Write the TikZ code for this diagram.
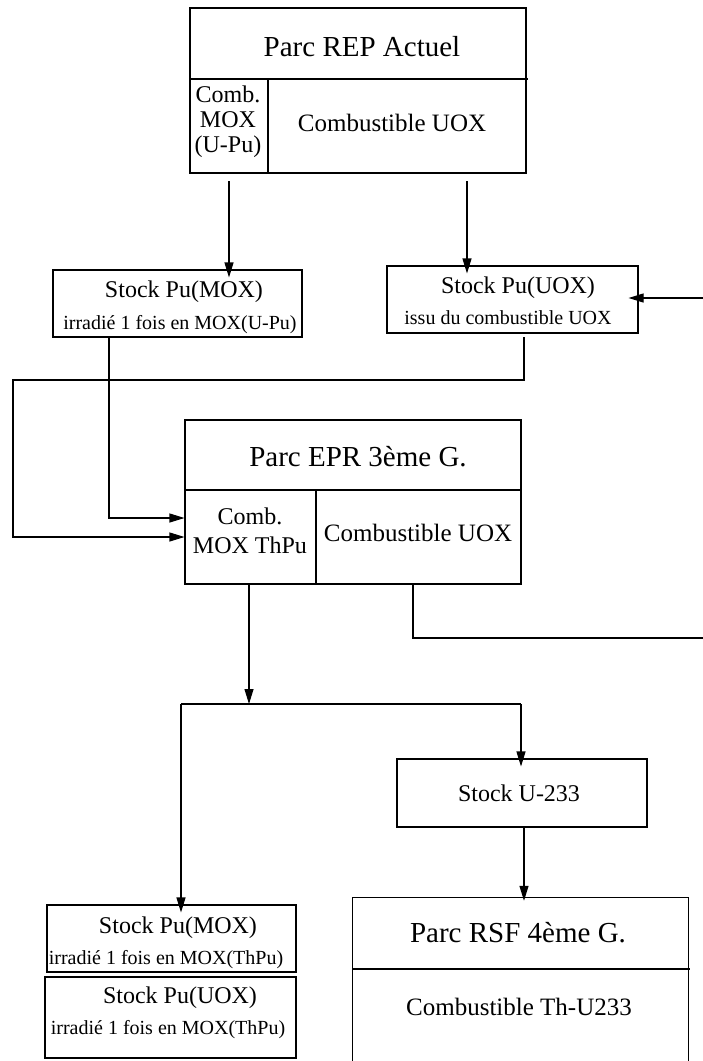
\documentclass[tikz,border=0pt]{standalone}
\usepackage{fontspec}
\setmainfont{Liberation Serif}
\usetikzlibrary{arrows.meta}
\tikzset{
  box/.style={draw, line width=1.1pt, inner sep=0pt, rectangle},
  area/.style={inner sep=0pt, rectangle},
  lbl/.style={inner sep=0pt, align=center},
  big/.style={font=\fontsize{29}{34}\selectfont},
  mid/.style={font=\fontsize{25}{30}\selectfont},
  std/.style={font=\fontsize{24}{25}\selectfont},
  stdb/.style={font=\fontsize{24}{29}\selectfont},
  small/.style={font=\fontsize{20}{24}\selectfont},
  wire/.style={line width=1.1pt},
  arr/.style={wire, -{Triangle[length=15pt,width=9pt]}},
}
\begin{document}
\begin{tikzpicture}[x=1pt,y=-1pt]
\useasboundingbox (0,0) rectangle (702,1061);

% ---------- Parc REP Actuel ----------
\node[box, minimum width=336pt, minimum height=165pt] (rep) at (358,90.5) {};
\draw[wire] (190,79) -- (528,79);
\draw[wire] (268,79) -- (268,173);
\node[lbl, big] (reptitle) at (362,47) {Parc REP Actuel};
\node[lbl, std] (repmoxtxt) at (228,122) {Comb.\\MOX\\(U-Pu)};
\node[lbl, mid] (repuoxtxt) at (392,123) {Combustible UOX};

% ---------- Stock Pu(MOX) ----------
\node[box, minimum width=249pt, minimum height=67pt] (smox) at (177.5,303.5) {};
\node[lbl, std] (smoxa) at (184,292) {Stock Pu(MOX)};
\node[lbl, small] (smoxb) at (180,325) {irradié 1 fois en MOX(U-Pu)};

% ---------- Stock Pu(UOX) ----------
\node[box, minimum width=251pt, minimum height=67pt] (suox) at (512.5,299.5) {};
\node[lbl, std] (suoxa) at (518,288) {Stock Pu(UOX)};
\node[lbl, small] (suoxb) at (508,318) {issu du combustible UOX};

% ---------- Parc EPR 3eme G. ----------
\node[box, minimum width=336pt, minimum height=164pt] (epr) at (353,502) {};
\draw[wire] (185,490) -- (521,490);
\draw[wire] (316,490) -- (316,584);
\node[lbl, big] (eprtitle) at (358,457) {Parc EPR 3ème G.};
\node[lbl, stdb] (eprmoxtxt) at (250,531) {Comb.\\MOX ThPu};
\node[lbl, mid] (epruoxtxt) at (418,533) {Combustible UOX};

% ---------- Stock U-233 ----------
\node[box, minimum width=250pt, minimum height=68pt] (u233) at (522,793) {};
\node[lbl, std] (u233txt) at (519,793) {Stock U-233};

% ---------- Parc RSF 4eme G. ----------
\node[area, minimum width=335pt, minimum height=166pt] (rsf) at (520.5,981) {};
\draw[wire] (rsf.south west) -- (rsf.north west) -- (rsf.north east) -- (rsf.south east);
\draw[wire] (353,969) -- (690,969);
\node[lbl, big] (rsftitle) at (518,933) {Parc RSF 4ème G.};
\node[lbl, mid] (rsftxt) at (519,1007) {Combustible Th-U233};

% ---------- Stock Pu(MOX) ThPu ----------
\node[box, minimum width=249pt, minimum height=67pt] (smox2) at (171.5,938.5) {};
\node[lbl, std] (smox2a) at (178,928) {Stock Pu(MOX)};
\node[lbl, small] (smox2b) at (166,960) {irradié 1 fois en MOX(ThPu)};

% ---------- Stock Pu(UOX) ThPu ----------
\node[box, minimum width=251pt, minimum height=81pt] (suox2) at (170.5,1017.5) {};
\node[lbl, std] (suox2a) at (180,998) {Stock Pu(UOX)};
\node[lbl, small] (suox2b) at (168,1030) {irradié 1 fois en MOX(ThPu)};

% ---------- connectors ----------
\coordinate (repmox) at (229,181);
\draw[arr, shorten >=-8pt] (repmox) -- (repmox |- smox.north);
\coordinate (repuox) at (467,181);
\draw[arr, shorten >=-8pt] (repuox) -- (repuox |- suox.north);

\coordinate (rin) at (703,298);
\draw[arr, shorten >=-10pt] (rin) -- (rin -| suox.east);

\coordinate (suoxout) at (524,337);
\coordinate (ca) at (524,380);
\coordinate (cb) at (13,380);
\coordinate (cc) at (13,537);
\draw[arr] (suoxout) -- (ca) -- (cb) -- (cc) -- (cc -| epr.west);

\coordinate (smoxout) at (109,337);
\coordinate (cd) at (109,518);
\draw[arr] (smoxout) -- (cd) -- (cd -| epr.west);

\coordinate (eprmox) at (249,584);
\coordinate (br) at (249,704);
\draw[arr] (eprmox) -- (br);
\coordinate (brl) at (181,704);
\coordinate (brr) at (521,704);
\draw[wire] (brl) -- (brr);
\draw[arr, shorten >=-8pt] (brl) -- (brl |- smox2.north);
\draw[arr, shorten >=-8pt] (brr) -- (brr |- u233.north);

\coordinate (eprout) at (413,584);
\coordinate (ce) at (413,638);
\coordinate (cf) at (703,638);
\draw[wire] (eprout) -- (ce) -- (cf);

\coordinate (uout) at (524,827);
\draw[arr, shorten >=-3pt] (uout) -- (uout |- rsf.north);
\end{tikzpicture}
\end{document}
